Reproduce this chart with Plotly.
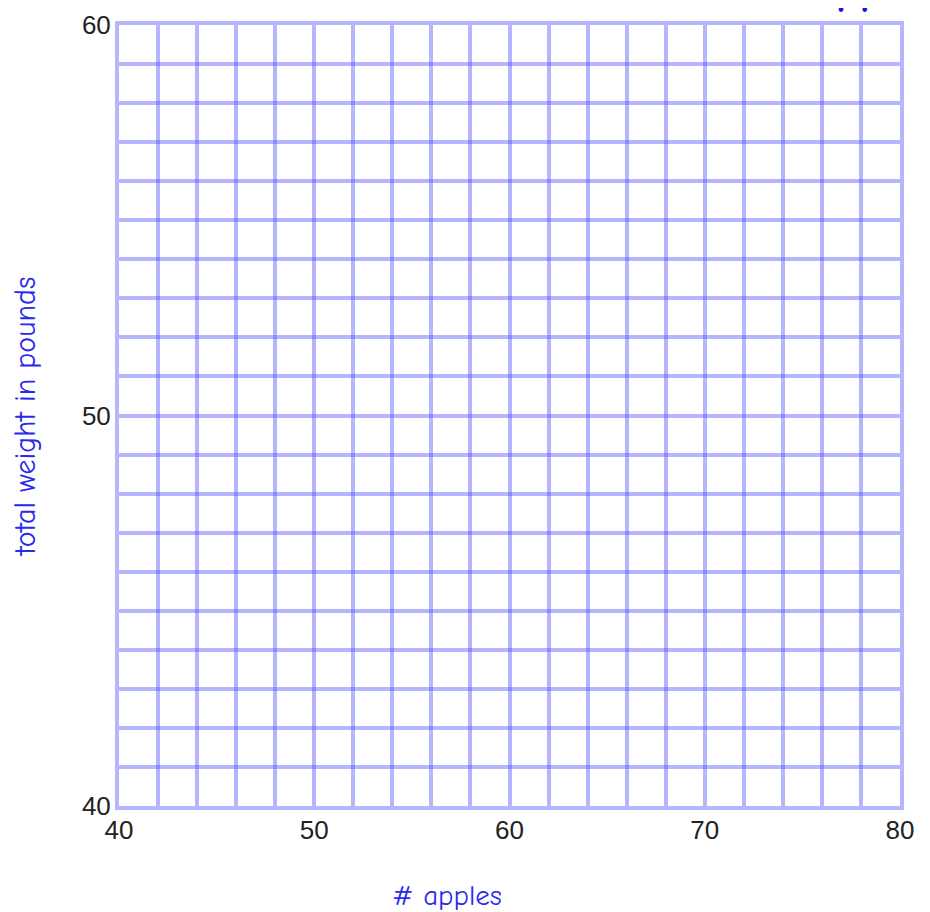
import plotly.graph_objects as go

# Axis definitions
x_range = [40, 80]
y_range = [40, 60]
x_grid_values = list(range(40, 81, 2))
y_grid_values = list(range(40, 61, 1))
x_labels = [str(v) if v % 10 == 0 else "" for v in x_grid_values]
y_labels = [str(v) if v % 10 == 0 else "" for v in y_grid_values]

x_title = "# apples"
y_title = "total weight in pounds"
top_title = "Apples"

grid_color = "rgba(80,80,255,0.42)"
blue_text = "#2a2aee"
comic = "Comic Sans MS, Comic Neue, Noto Sans, DejaVu Sans, sans-serif"

# page offset of the figure inside the browser page
OX, OY = 8, 6
L, T = 119 - OX, 23 - OY
PW, PH = 781, 781
W, H = 930, 912


def px(xpage):
    return (xpage - OX - L) / PW


def py(ypage):
    return 1 - (ypage - OY - T) / PH


fig = go.Figure()
fig.add_trace(go.Scatter(x=x_range, y=y_range, mode="markers",
                         marker=dict(opacity=0), hoverinfo="skip", showlegend=False))

fig.update_layout(
    width=W, height=H,
    margin=dict(l=L, r=W - L - PW, t=T, b=H - T - PH, pad=0),
    paper_bgcolor="white", plot_bgcolor="white",
    showlegend=False,
    font=dict(family="Liberation Sans, Arial, sans-serif", size=26, color="#222222"),
)

fig.update_xaxes(
    range=x_range, tickmode="array", tickvals=x_grid_values, ticktext=x_labels,
    showgrid=True, gridcolor=grid_color, gridwidth=4, automargin=False,
    zeroline=False, showline=True, linecolor=grid_color, linewidth=4, mirror=True,
    ticks="", ticklabelstandoff=-2, ticklabeloverflow="allow",
)
fig.update_yaxes(
    range=y_range, tickmode="array", tickvals=y_grid_values, ticktext=y_labels,
    showgrid=True, gridcolor=grid_color, gridwidth=4, automargin=False,
    zeroline=False, showline=True, linecolor=grid_color, linewidth=4, mirror=True,
    ticks="", ticklabelstandoff=-1, ticklabeloverflow="allow",
)

fig.add_annotation(
    text=y_title, xref="paper", yref="paper", x=px(25), y=py(415),
    xanchor="center", yanchor="middle", textangle=-90, showarrow=False,
    font=dict(family=comic, size=30, color=blue_text),
)
fig.add_annotation(
    text=x_title, xref="paper", yref="paper", x=px(447), y=py(893),
    xanchor="center", yanchor="middle", showarrow=False,
    font=dict(family=comic, size=29, color=blue_text),
)
fig.add_annotation(
    text="<b>" + top_title + "</b>", xref="paper", yref="paper", x=px(808),
    y=py(16), xanchor="left", yanchor="bottom", showarrow=False,
    font=dict(family=comic, size=46, color="#1515dd"),
)

fig.write_html("out.html")
